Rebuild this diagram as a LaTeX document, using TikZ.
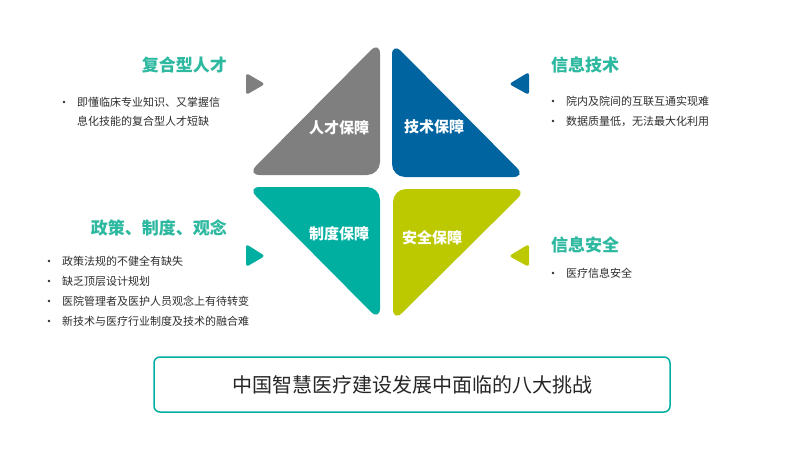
\documentclass[tikz,border=0pt]{standalone}
\usepackage{fontspec}
\setmainfont{Noto Sans CJK SC}
\definecolor{cgray}{HTML}{7F7F7F}
\definecolor{cblue}{HTML}{0064A1}
\definecolor{cteal}{HTML}{00AFA0}
\definecolor{cgreen}{HTML}{BCC800}
\definecolor{chead}{HTML}{2DB8A0}
\definecolor{ctext}{HTML}{2E2E2E}
\tikzset{
  quad/.style={rounded corners=13pt},
  tip/.style={rounded corners=3pt},
  qlabel/.style={text=white,font=\fontsize{15pt}{15pt}\selectfont\bfseries,inner sep=0pt},
  heading/.style={text=chead,font=\fontsize{17pt}{17pt}\selectfont\bfseries,inner sep=0pt},
  btext/.style={text=ctext,font=\fontsize{11pt}{11pt}\selectfont,inner sep=0pt,anchor=west},
  bdot/.style={circle,fill=ctext,inner sep=0pt,minimum size=2.6pt},
}
\begin{document}
\begin{tikzpicture}[x=1pt,y=-1pt]
\useasboundingbox (0,0) rectangle (800,450);
\fill[white] (0,0) rectangle (800,450);
% quadrants
\fill[cgray,quad] (380,41) -- (380,175) -- (247,175) -- cycle;
\fill[cblue,quad] (392,42) -- (526,177) -- (392,177) -- cycle;
\fill[cteal,quad] (247,187) -- (380,187) -- (380,321) -- cycle;
\fill[cgreen,quad] (393,189) -- (527,189) -- (393,322) -- cycle;
\node[qlabel] (l1) at (339,128) {人才保障};
\node[qlabel] (l2) at (434,127) {技术保障};
\node[qlabel] (l3) at (339,234) {制度保障};
\node[qlabel] (l4) at (432,238) {安全保障};
% small pointers
\fill[cgray,tip] (246,73) -- (265,84) -- (246,95) -- cycle;
\fill[cblue,tip] (529,72) -- (529,95) -- (509,84) -- cycle;
\fill[cteal,tip] (246,244) -- (265,256) -- (246,267) -- cycle;
\fill[cgreen,tip] (529,244) -- (529,267) -- (509,256) -- cycle;
% top-left
\node[heading,anchor=east] (h1) at (227,65) {复合型人才};
\node[bdot] (d11) at (64,102) {};
\node[btext] (t11) at (77,102) {即懂临床专业知识、又掌握信};
\node[btext] (t12) at (77,121) {息化技能的复合型人才短缺};
% top-right
\node[heading,anchor=west] (h2) at (551,65) {信息技术};
\node[bdot] (d21) at (553,101) {};
\node[btext] (t21) at (566,101) {院内及院间的互联互通实现难};
\node[bdot] (d22) at (553,121) {};
\node[btext] (t22) at (566,121) {数据质量低，无法最大化利用};
% bottom-left
\node[heading,anchor=east] (h3) at (227,228) {政策、制度、观念};
\node[bdot] (d31) at (49,261) {};
\node[btext] (t31) at (62,261) {政策法规的不健全有缺失};
\node[bdot] (d32) at (49,281) {};
\node[btext] (t32) at (62,281) {缺乏顶层设计规划};
\node[bdot] (d33) at (49,301) {};
\node[btext] (t33) at (62,301) {医院管理者及医护人员观念上有待转变};
\node[bdot] (d34) at (49,321) {};
\node[btext] (t34) at (62,321) {新技术与医疗行业制度及技术的融合难};
% bottom-right
\node[heading,anchor=west] (h4) at (551,245) {信息安全};
\node[bdot] (d41) at (553,273) {};
\node[btext] (t41) at (566,273) {医疗信息安全};
% bottom box
\node[draw=cteal,line width=1.5pt,rounded corners=6pt,minimum width=516pt,minimum height=55pt,inner sep=0pt,
  text=black!85,font=\fontsize{20pt}{20pt}\selectfont] (box) at (412,384.5) {中国智慧医疗建设发展中面临的八大挑战};
\end{tikzpicture}
\end{document}
